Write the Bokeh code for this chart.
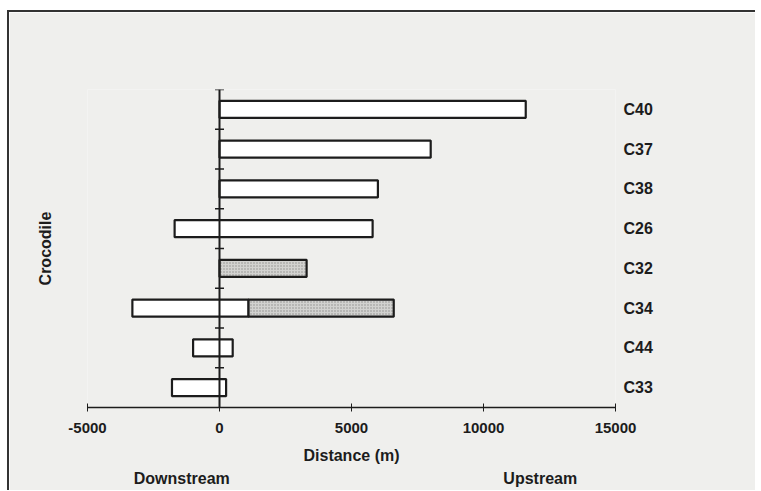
from bokeh.plotting import figure
from bokeh.models import LinearAxis, FixedTicker, Span, Range1d
from bokeh.embed import file_html
from bokeh.resources import INLINE

# Categories, bottom to top
crocodiles = ["C33", "C44", "C34", "C32", "C26", "C38", "C37", "C40"]

# Open (white) bars: range of movement (m)
open_names = ["C33", "C44", "C34", "C26", "C38", "C37", "C40"]
open_start = [-1800, -1000, -3300, -1700, 0, 0, 0]
open_end = [250, 500, 1100, 5800, 6000, 8000, 11600]

# Shaded bars
shaded_names = ["C32", "C34"]
shaded_start = [0, 1100]
shaded_end = [3300, 6600]

x_ticks = [-5000, 0, 5000, 10000, 15000]
x_tick_labels = ["-5000", "0", "5000", "10000", "15000"]
direction_labels = ["Downstream", "Upstream"]
direction_x = [-1430, 12150]

FONT = "Liberation Sans"
INK = "#1c1c1c"
PAPER = "#efefed"

idx = {c: i for i, c in enumerate(crocodiles)}

p = figure(width=748, height=480, output_backend="svg", toolbar_location=None,
           x_range=Range1d(-5000, 15000), y_range=Range1d(-0.5, len(crocodiles) - 0.5),
           y_axis_location="right",
           min_border_left=78, min_border_right=142, min_border_top=77, min_border_bottom=85)
p.background_fill_color = PAPER
p.border_fill_color = PAPER
p.outline_line_color = None
p.grid.visible = False
p.styles = {"border-left": "2px solid #333", "border-top": "2px solid #333",
            "margin-left": "7px", "margin-top": "10px"}

# bars
p.hbar(y=[idx[c] for c in open_names], left=open_start, right=open_end, height=0.43,
       fill_color="white", line_color=INK, line_width=2.2)
p.hbar(y=[idx[c] for c in shaded_names], left=shaded_start, right=shaded_end, height=0.43,
       fill_color="#d2d2d0", line_color=INK, line_width=2.2,
       hatch_pattern="dot", hatch_color="#707070", hatch_scale=3, hatch_alpha=0.7)

# vertical axis line at zero with category boundary ticks
p.add_layout(Span(location=0, dimension="height", line_color=INK, line_width=2))
p.scatter(x=[0] * len(crocodiles), y=[i + 0.5 for i in range(len(crocodiles))],
          marker="dash", size=9, line_color=INK, line_width=1.5)

# x axis
xa = p.xaxis[0]
xa.ticker = FixedTicker(ticks=x_ticks)
xa.major_label_overrides = {t: s for t, s in zip(x_ticks, x_tick_labels)}
xa.minor_tick_line_color = None
xa.major_tick_in = 4
xa.major_tick_out = 4
xa.axis_line_color = INK
xa.major_tick_line_color = INK
xa.axis_line_width = 1.5
xa.major_label_standoff = 11
xa.major_label_text_font = FONT
xa.major_label_text_font_style = "bold"
xa.major_label_text_font_size = "15px"
xa.major_label_text_color = INK
xa.axis_label = "Distance (m)"
xa.axis_label_text_font = FONT
xa.axis_label_text_font_style = "bold"
xa.axis_label_text_font_size = "16px"
xa.axis_label_text_color = INK
xa.axis_label_standoff = 11

# direction labels as second bottom axis
da = LinearAxis(ticker=FixedTicker(ticks=direction_x),
                major_label_overrides={x: t for x, t in zip(direction_x, direction_labels)},
                axis_line_color=None, major_tick_line_color=None, minor_tick_line_color=None,
                major_tick_out=0, major_tick_in=0, major_label_standoff=3,
                major_label_text_font=FONT, major_label_text_font_style="bold",
                major_label_text_font_size="16px", major_label_text_color=INK)
p.add_layout(da, "below")

# category labels on right
ya = p.yaxis[0]
ya.ticker = FixedTicker(ticks=list(range(len(crocodiles))))
ya.major_label_overrides = {i: c for i, c in enumerate(crocodiles)}
ya.axis_line_color = None
ya.major_tick_line_color = None
ya.minor_tick_line_color = None
ya.major_tick_out = 0
ya.major_tick_in = 0
ya.major_label_standoff = 8
ya.major_label_text_font = FONT
ya.major_label_text_font_style = "bold"
ya.major_label_text_font_size = "16px"
ya.major_label_text_color = INK

# left axis title
la = LinearAxis(ticker=FixedTicker(ticks=[]), axis_label="Crocodile",
                axis_line_color=None, major_tick_line_color=None, minor_tick_line_color=None,
                major_tick_out=0, major_tick_in=0, major_label_standoff=0,
                axis_label_standoff=34, axis_label_text_font=FONT,
                axis_label_text_font_style="bold", axis_label_text_font_size="16px",
                axis_label_text_color=INK)
p.add_layout(la, "left")

open("out.html", "w").write(file_html(p, INLINE))
